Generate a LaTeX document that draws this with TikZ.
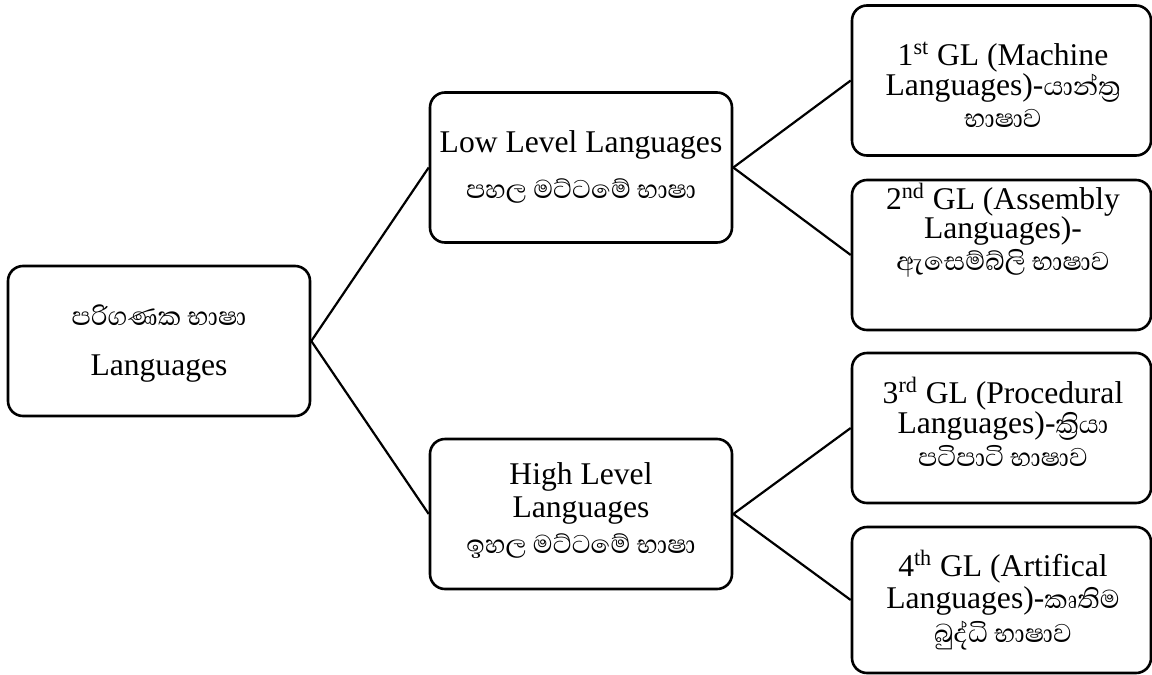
\documentclass[tikz,border=0pt]{standalone}
\usepackage{fontspec}
\setmainfont{Liberation Serif}
\newfontfamily\sinhalafont[Script=Sinhala]{Abhaya Libre}
\newcommand\sitext[1]{{\sinhalafont\fontsize{16.5}{18}\selectfont #1}}
\tikzset{
  box/.style={draw, line width=1.3pt, rounded corners=7.5pt, inner sep=0pt,
              minimum width=151pt, minimum height=75pt},
  gbox/.style={box, minimum width=149.5pt},
  link/.style={line width=1.1pt},
  line/.style={anchor=base, inner sep=0pt, font=\fontsize{15.8}{18}\selectfont},
}
\begin{document}
\begin{tikzpicture}[x=0.5pt, y=-0.5pt]
\useasboundingbox (0,0) rectangle (1152,675);

% boxes
\node[box] (root) at (159,341) {};
\node[box] (low)  at (581,167.5) {};
\node[box] (high) at (581,514) {};
\node[gbox] (g1) at (1001.5,80.5) {};
\node[gbox] (g2) at (1001.5,255) {};
\node[gbox] (g3) at (1001.5,428) {};
\node[gbox, minimum height=73pt] (g4) at (1001.5,600) {};

% connectors
\draw[link] (root.east) -- (low.west);
\draw[link] (root.east) -- (high.west);
\draw[link] (low.east) -- (g1.west);
\draw[link] (low.east) -- (g2.west);
\draw[link] (high.east) -- (g3.west);
\draw[link] (high.east) -- (g4.west);

% texts
\node[line] (root-a) at (159,325) {\sitext{පරිගණක භාෂා}};
\node[line] (root-b) at (159,375) {Languages};

\node[line] (low-a) at (581,152) {Low Level Languages};
\node[line] (low-b) at (581,198) {\sitext{පහල මට්ටමේ භාෂා}};

\node[line] (high-a) at (581,484) {High Level};
\node[line] (high-b) at (581,517) {Languages};
\node[line] (high-c) at (581,553) {\sitext{ඉහල මට්ටමේ භාෂා}};

\node[line] (g1-a) at (1003,65) {1\textsuperscript{st} GL (Machine};
\node[line] (g1-b) at (1003,95) {Languages)-\sitext{යාන්ත්‍ර}};
\node[line] (g1-c) at (1003,127) {\sitext{භාෂාව}};

\node[line] (g2-a) at (1003,209) {2\textsuperscript{nd} GL (Assembly};
\node[line] (g2-b) at (1003,238) {Languages)-};
\node[line] (g2-c) at (1003,270) {\sitext{ඇසෙම්බ්ලි භාෂාව}};

\node[line] (g3-a) at (1003,403) {3\textsuperscript{rd} GL (Procedural};
\node[line] (g3-b) at (1003,433) {Languages)-\sitext{ක්‍රියා}};
\node[line] (g3-c) at (1003,466) {\sitext{පටිපාටි භාෂාව}};

\node[line] (g4-a) at (1003,576) {4\textsuperscript{th} GL (Artifical};
\node[line] (g4-b) at (1003,608) {Languages)-\sitext{කෘතිම}};
\node[line] (g4-c) at (1003,642) {\sitext{බුද්ධි භාෂාව}};
\end{tikzpicture}
\end{document}
